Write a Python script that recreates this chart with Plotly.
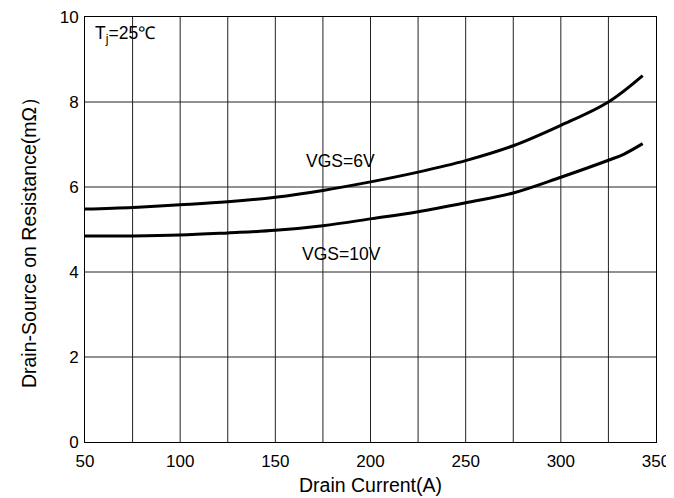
import plotly.graph_objects as go

current_6v = [50, 75, 100, 125, 150, 175, 200, 225, 250, 275, 300, 325, 343]
rds_6v = [5.48, 5.52, 5.58, 5.65, 5.76, 5.92, 6.12, 6.35, 6.62, 6.97, 7.45, 8.0, 8.62]
current_10v = [50, 75, 100, 125, 150, 175, 200, 225, 250, 275, 300, 325, 333, 343]
rds_10v = [4.85, 4.85, 4.87, 4.92, 4.98, 5.09, 5.25, 5.42, 5.63, 5.86, 6.23, 6.63, 6.77, 7.02]

x_ticks = [50, 100, 150, 200, 250, 300, 350]
y_ticks = [0, 2, 4, 6, 8, 10]

font = "Liberation Sans"
tick_size = 17
title_size = 19.5

fig = go.Figure()
fig.add_trace(go.Scatter(x=current_6v, y=rds_6v, mode="lines",
                         line=dict(color="black", width=3, shape="spline"), showlegend=False))
fig.add_trace(go.Scatter(x=current_10v, y=rds_10v, mode="lines",
                         line=dict(color="black", width=3, shape="spline"), showlegend=False))

fig.add_annotation(x=184, y=6.61, text="VGS=6V", showarrow=False,
                   font=dict(family=font, size=17.5, color="black"))
fig.add_annotation(x=185, y=4.42, text="VGS=10V", showarrow=False,
                   font=dict(family=font, size=17.5, color="black"))
fig.add_annotation(x=54, y=9.6, text="T<sub>j</sub>=25℃", showarrow=False, xanchor="left",
                   font=dict(family=font, size=17.5, color="black"))

# axis titles
fig.add_annotation(xref="paper", yref="paper", x=0.5, y=-0.1, yanchor="middle",
                   text="Drain Current(A)", showarrow=False,
                   font=dict(family=font, size=title_size, color="black"))
fig.add_annotation(xref="paper", yref="paper", x=-0.121, y=0.482, textangle=-90,
                   text="Drain-Source on Resistance(mΩ）", showarrow=False,
                   font=dict(family=font, size=title_size, color="black"))

fig.update_xaxes(range=[50, 350], tickvals=x_ticks, ticktext=[str(v) for v in x_ticks],
                 showgrid=False, showline=True, linecolor="black", linewidth=1, mirror=True,
                 ticks="", zeroline=False, automargin=False, ticklabelstandoff=4,
                 ticklabeloverflow="allow",
                 tickfont=dict(family=font, size=tick_size, color="black"))
fig.update_yaxes(range=[0, 10], tickvals=y_ticks, ticktext=[str(v) for v in y_ticks],
                 showgrid=False, showline=True, linecolor="black", linewidth=1, mirror=True,
                 ticks="", zeroline=False, automargin=False, ticklabelstandoff=2,
                 ticklabeloverflow="allow",
                 tickfont=dict(family=font, size=tick_size, color="black"))

shapes = []
for xv in range(75, 350, 25):
    shapes.append(dict(type="line", xref="x", yref="y", x0=xv, x1=xv, y0=0, y1=10,
                       line=dict(color="#222", width=1), layer="below"))
for yv in [2, 4, 6, 8]:
    shapes.append(dict(type="line", xref="x", yref="y", x0=50, x1=350, y0=yv, y1=yv,
                       line=dict(color="#222", width=1), layer="below"))
fig.update_layout(shapes=shapes)

# page body has an 8px default margin; size the figure to compensate
fig.update_layout(width=666, height=490, margin=dict(l=77, r=18, t=9, b=56, autoexpand=False),
                  plot_bgcolor="white", paper_bgcolor="white",
                  font=dict(family=font, size=tick_size, color="black"))

fig.write_html("out.html")
